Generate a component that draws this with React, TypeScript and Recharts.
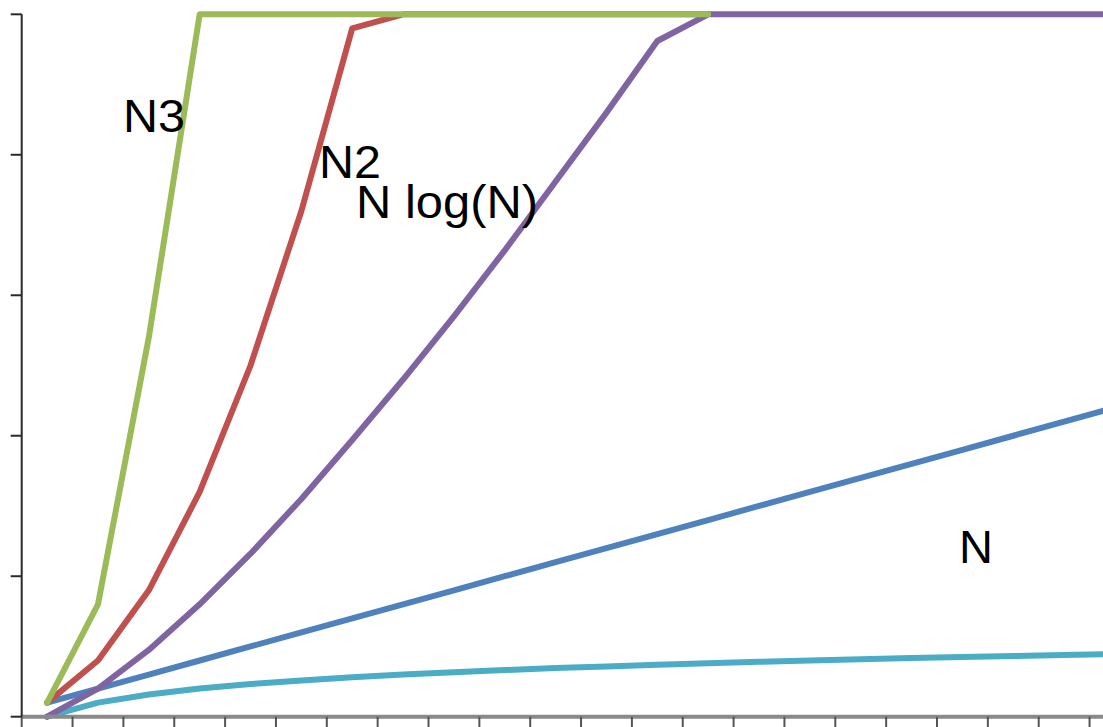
import React from 'react';
import { LineChart, Line, XAxis, YAxis } from 'recharts';

// values (N = 1..23); series above 50 are drawn flat at the top
const sizes = [1, 2, 3, 4, 5, 6, 7, 8, 9, 10, 11, 12, 13, 14, 15, 16, 17, 18, 19, 20, 21, 22, 23];
const logN = [0, 1, 1.58, 2, 2.32, 2.58, 2.81, 3, 3.17, 3.32, 3.46, 3.58, 3.7, 3.81, 3.91, 4, 4.09, 4.17, 4.25, 4.32, 4.39, 4.46, 4.52];
const linearN = [1, 2, 3, 4, 5, 6, 7, 8, 9, 10, 11, 12, 13, 14, 15, 16, 17, 18, 19, 20, 21, 22, 23];
const nLogN = [0, 2, 4.75, 8, 11.6, 15.5, 19.7, 24, 28.5, 33.2, 38.1, 43, 48.1, 50, 50, 50, 50, 50, 50, 50, 50, 50, 50];
const nSquared = [1, 4, 9, 16, 25, 36, 49, 50, 50, 50, 50, 50, 50, 50, null, null, null, null, null, null, null, null, null];
const nCubed = [1, 8, 27, 50, 50, 50, 50, 50, 50, 50, 50, 50, 50, 50, null, null, null, null, null, null, null, null, null];
const yTicks = [0, 10, 20, 30, 40, 50];

const labels = [
  { text: 'N3', x: 123, y: 132, len: 62 },
  { text: 'N2', x: 319, y: 178, len: 62 },
  { text: 'N log(N)', x: 356, y: 218, len: 182 },
  { text: 'N', x: 959, y: 563, len: 34 },
];

const data = sizes.map((n, i) => ({
  n,
  logN: logN[i],
  linear: linearN[i],
  nLogN: nLogN[i],
  nSquared: nSquared[i],
  nCubed: nCubed[i],
}));

// tick marks sit between the categories, like Excel's "between tick marks"
const xTicks = [sizes[0] - 0.5, ...sizes.map((n) => n + 0.5)];

const BAND = 50.85;
const PLOT_LEFT = 21.7;
const PLOT_TOP = 14.3;
const PLOT_HEIGHT = 702.4;
const CHART_H = 750;
const CHART_W = PLOT_LEFT + sizes.length * BAND + 10;

const lineProps = {
  type: 'linear' as const,
  strokeWidth: 6,
  strokeLinejoin: 'round' as const,
  strokeLinecap: 'round' as const,
  dot: false,
  activeDot: false,
  isAnimationActive: false,
};

const NoLabel = () => <g />;

export default function App() {
  return (
    <div
      style={{
        position: 'fixed',
        top: 0,
        left: 0,
        width: 1103,
        height: 727,
        overflow: 'hidden',
        background: '#fff',
      }}
    >
      <LineChart
        width={CHART_W}
        height={CHART_H}
        data={data}
        margin={{ top: PLOT_TOP, right: 10, bottom: 0, left: 0 }}
      >
        <XAxis
          dataKey="n"
          type="number"
          domain={[xTicks[0], xTicks[xTicks.length - 1]]}
          ticks={xTicks}
          tick={NoLabel}
          tickSize={12}
          interval={0}
          height={CHART_H - PLOT_TOP - PLOT_HEIGHT}
          axisLine={{ stroke: '#8a8a8a', strokeWidth: 4 }}
          tickLine={{ stroke: '#555', strokeWidth: 2 }}
        />
        <YAxis
          type="number"
          domain={[0, 50]}
          ticks={yTicks}
          tick={NoLabel}
          tickSize={11}
          interval={0}
          width={PLOT_LEFT}
          axisLine={{ stroke: '#2a2a2a', strokeWidth: 2 }}
          tickLine={{ stroke: '#2a2a2a', strokeWidth: 2 }}
        />
        <Line {...lineProps} dataKey="logN" stroke="#4BACC6" />
        <Line {...lineProps} dataKey="linear" stroke="#4F81BD" />
        <Line {...lineProps} dataKey="nLogN" stroke="#8064A2" />
        <Line {...lineProps} dataKey="nSquared" stroke="#C0504D" />
        <Line {...lineProps} dataKey="nCubed" stroke="#9BBB59" />
      </LineChart>
      <svg
        width={1103}
        height={727}
        style={{ position: 'absolute', top: 0, left: 0, pointerEvents: 'none' }}
      >
        {labels.map((l) => (
          <text
            key={l.text}
            x={l.x}
            y={l.y}
            textLength={l.len}
            lengthAdjust="spacingAndGlyphs"
            fontFamily="'Liberation Sans', Arial, sans-serif"
            fontSize={47}
            fill="#000"
          >
            {l.text}
          </text>
        ))}
      </svg>
    </div>
  );
}
